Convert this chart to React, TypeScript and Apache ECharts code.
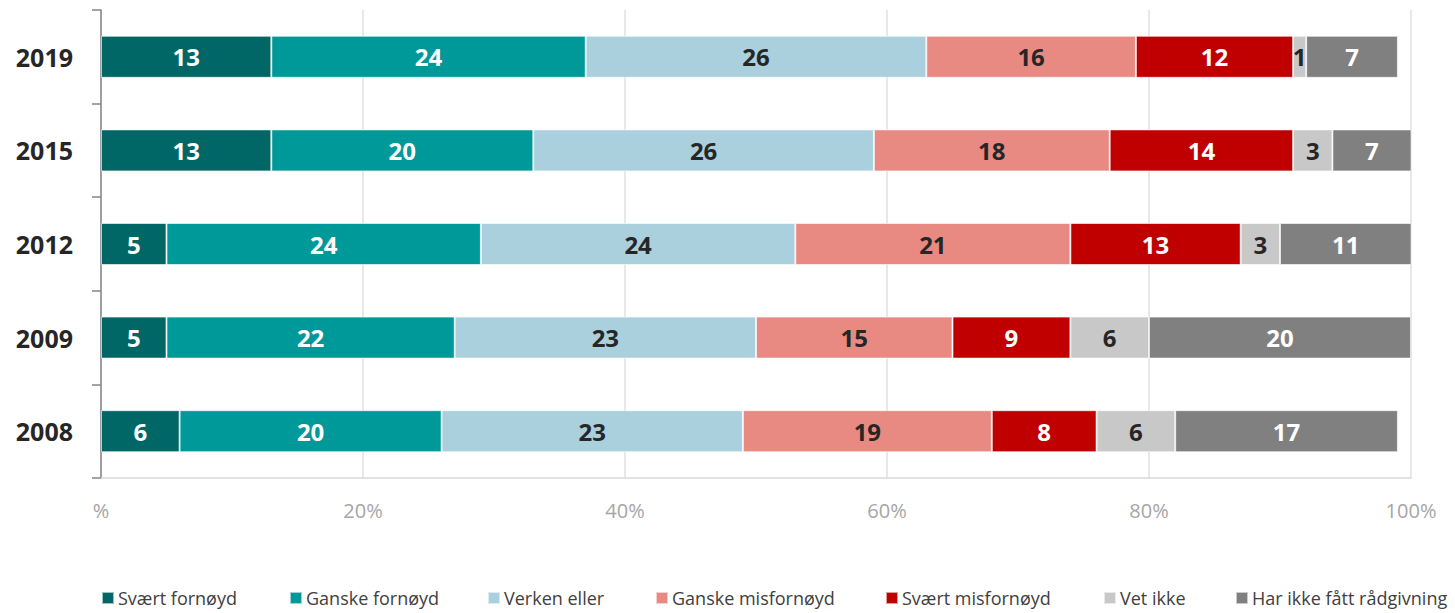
import React, { useEffect, useRef } from "react";
import * as echarts from "echarts";

const years = ["2019", "2015", "2012", "2009", "2008"];
const seriesNames = [
  "Svært fornøyd",
  "Ganske fornøyd",
  "Verken eller",
  "Ganske misfornøyd",
  "Svært misfornøyd",
  "Vet ikke",
  "Har ikke fått rådgivning",
];
const sværtFornøyd = [13, 13, 5, 5, 6];
const ganskeFornøyd = [24, 20, 24, 22, 20];
const verkenEller = [26, 26, 24, 23, 23];
const ganskeMisfornøyd = [16, 18, 21, 15, 19];
const sværtMisfornøyd = [12, 14, 13, 9, 8];
const vetIkke = [1, 3, 3, 6, 6];
const harIkkeFått = [7, 7, 11, 20, 17];
const xTicks = [0, 20, 40, 60, 80, 100];

const seriesData = [
  sværtFornøyd,
  ganskeFornøyd,
  verkenEller,
  ganskeMisfornøyd,
  sværtMisfornøyd,
  vetIkke,
  harIkkeFått,
];
const colors = ["#006666", "#009999", "#aad0de", "#e88a82", "#c00000", "#c8c8c8", "#808080"];
const labelColors = ["#ffffff", "#ffffff", "#262626", "#262626", "#ffffff", "#262626", "#ffffff"];
const legendLefts = [101, 289, 487, 655, 885, 1103, 1235];

const FONT = "'Open Sans', sans-serif";

export default function App() {
  const ref = useRef<HTMLDivElement>(null);
  useEffect(() => {
    if (!ref.current) return;
    const chart = echarts.init(ref.current, null, { renderer: "svg" });
    chart.setOption({
      animation: false,
      color: colors,
      textStyle: { fontFamily: FONT },
      grid: { left: 101, right: 44, top: 10, bottom: 135, containLabel: false },
      legend: seriesNames.map((n, i) => ({
        data: [n],
        left: legendLefts[i],
        top: 589,
        padding: 0,
        icon: "rect",
        itemWidth: 12,
        itemHeight: 12,
        selectedMode: false,
        textStyle: { fontSize: 18, color: "#404040", fontFamily: FONT, padding: [0, 0, 0, -1] },
      })),
      xAxis: {
        type: "value",
        min: xTicks[0],
        max: xTicks[xTicks.length - 1],
        interval: 20,
        axisLine: { show: true, lineStyle: { color: "#d9d9d9", width: 1.5 } },
        axisTick: { show: false },
        splitLine: { show: true, lineStyle: { color: "#e0e0e0", width: 1.5 } },
        axisLabel: {
          color: "#a6a6a6",
          fontSize: 20,
          margin: 22,
          fontFamily: FONT,
          formatter: (v: number) => (v === 0 ? "%" : v + "%"),
        },
      },
      yAxis: {
        type: "category",
        data: years,
        inverse: true,
        axisLine: { show: true, lineStyle: { color: "#868686", width: 1.5 } },
        axisTick: { show: true, length: 9, lineStyle: { color: "#868686", width: 1.5 } },
        axisLabel: {
          color: "#262626",
          fontSize: 25,
          fontWeight: "bold",
          margin: 28,
          fontFamily: FONT,
        },
      },
      series: seriesNames.map((n, i) => ({
        name: n,
        type: "bar",
        stack: "total",
        barWidth: 42,
        clip: true,
        data: seriesData[i],
        itemStyle: { color: colors[i], borderColor: "rgba(255,255,255,0.6)", borderWidth: 1 },
        label: {
          show: true,
          position: "inside",
          formatter: "{c}",
          color: labelColors[i],
          fontSize: 24,
          fontWeight: "bold",
          fontFamily: FONT,
        },
      })),
    });
    return () => chart.dispose();
  }, []);
  return (
    <div
      ref={ref}
      style={{ position: "absolute", left: 0, top: 0, width: 1455, height: 613, background: "#fff" }}
    />
  );
}
